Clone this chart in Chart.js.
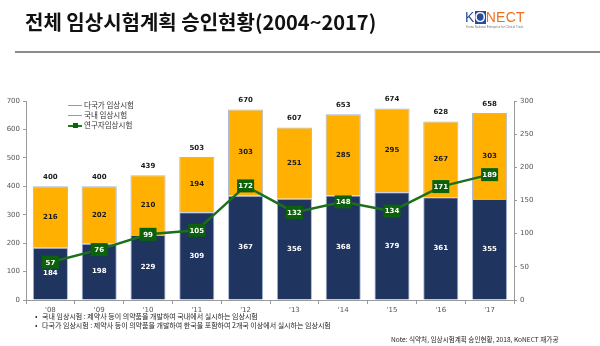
<!DOCTYPE html>
<html><head><meta charset="utf-8">
<script src="https://cdn.jsdelivr.net/npm/chart.js@4/dist/chart.umd.min.js"></script>
<style>
html,body{margin:0;padding:0;background:#fff;}
#wrap{position:relative;width:600px;height:346px;overflow:hidden;font-family:"Noto Sans CJK KR","Noto Sans",sans-serif;}
#c{position:absolute;left:0;top:0;}
.abs{position:absolute;white-space:nowrap;}
#title{left:25px;top:10px;font-size:20px;font-weight:bold;color:#111;line-height:24px;}
#rule{left:15px;top:51px;width:585px;height:2px;background:#8c8c8c;}
#logo{left:465px;top:10px;font-family:"Liberation Sans",Arial,sans-serif;font-size:14px;line-height:14px;letter-spacing:0.3px;}
#logo .k{color:#2b4c9b;}
#logo .o{display:inline-block;background:#2b4c9b;color:#fff;width:11px;text-align:center;line-height:13px;}
#logo .n{color:#ef6f22;}
#logosub{left:466px;top:25px;font-size:3px;color:#777;font-family:"Liberation Sans",sans-serif;}
.leg{font-size:7.5px;color:#333;line-height:10px;}
.legline{position:absolute;height:1px;background:#9a9a9a;}
.note{font-size:7px;color:#222;line-height:9px;}
</style></head>
<body><div id="wrap">
<canvas id="c" width="600" height="346"></canvas>
<div id="title" class="abs">전체 임상시험계획 승인현황(2004~2017)</div>
<div id="rule" class="abs"></div>
<div id="logo" class="abs"><span class="k">K</span><span class="o">O</span><span class="n">NECT</span></div>
<div id="logosub" class="abs">Korea National Enterprise for Clinical Trials</div>
<div class="legline" style="left:68px;top:105px;width:14px;"></div>
<div class="abs leg" style="left:84px;top:100px;">다국가 임상시험</div>
<div class="legline" style="left:68px;top:115px;width:14px;"></div>
<div class="abs leg" style="left:84px;top:110px;">국내 임상시험</div>
<div class="legline" style="left:68px;top:125px;width:14px;height:2px;background:#1f7a1f;"></div>
<div class="abs" style="left:73px;top:123px;width:5px;height:5px;background:#0b640b;"></div>
<div class="abs leg" style="left:84px;top:120px;">연구자임상시험</div>
<div class="abs note" style="left:35px;top:312px;">•&nbsp;&nbsp; 국내 임상시험 : 제약사 등이 의약품을 개발하여 국내에서 실시하는 임상시험</div>
<div class="abs note" style="left:35px;top:321px;">•&nbsp;&nbsp; 다국가 임상시험 : 제약사 등이 의약품을 개발하여 한국을 포함하여 2개국 이상에서 실시하는 임상시험</div>
<div class="abs note" style="left:391px;top:335px;font-size:6.6px;">Note: 식약처, 임상시험계획 승인현황, 2018, KoNECT 재가공</div>
</div>
<script>
const years = ["'08","'09","'10","'11","'12","'13","'14","'15","'16","'17"];
const domestic = [184,198,229,309,367,356,368,379,361,355];
const multinational = [216,202,210,194,303,251,285,295,267,303];
const totals = [400,400,439,503,670,607,653,674,628,658];
const investigator = [57,76,99,105,172,132,148,134,171,189];
const leftTicks = [0,100,200,300,400,500,600,700];
const rightTicks = [0,50,100,150,200,250,300];

const NAVY = '#1f3560', ORANGE = '#ffb000', GREEN = '#1c6f1c', BOX = '#0b620b', BORDER = '#a9b8d6';
const numFont = 'bold 7px "DejaVu Sans", sans-serif';

const labelPlugin = {
  id: 'labels',
  afterDatasetsDraw(chart) {
    const ctx = chart.ctx;
    ctx.save();
    ctx.font = numFont;
    ctx.textAlign = 'center';
    ctx.textBaseline = 'middle';
    const m0 = chart.getDatasetMeta(0), m1 = chart.getDatasetMeta(1), m2 = chart.getDatasetMeta(2);
    m0.data.forEach((el, i) => {
      ctx.fillStyle = '#fff';
      ctx.fillText(String(domestic[i]), el.x, (el.y + el.base) / 2);
    });
    m1.data.forEach((el, i) => {
      ctx.fillStyle = '#1a1a1a';
      ctx.fillText(String(multinational[i]), el.x, (el.y + el.base) / 2);
      ctx.fillText(String(totals[i]), el.x, el.y - 9);
    });
    m2.data.forEach((el, i) => {
      const w = 17, h = 13;
      ctx.fillStyle = BOX;
      ctx.fillRect(el.x - w/2, el.y - h/2, w, h);
      ctx.fillStyle = '#fff';
      ctx.fillText(String(investigator[i]), el.x, el.y + 0.5);
    });
    ctx.restore();
  }
};

new Chart(document.getElementById('c'), {
  data: {
    labels: years,
    datasets: [
      { type: 'bar', label: '국내 임상시험', data: domestic, backgroundColor: NAVY, borderColor: BORDER, borderWidth: 1, stack: 's', yAxisID: 'y', order: 2, categoryPercentage: 1, barPercentage: 0.72 },
      { type: 'bar', label: '다국가 임상시험', data: multinational, backgroundColor: ORANGE, borderColor: BORDER, borderWidth: 1, stack: 's', yAxisID: 'y', order: 2, categoryPercentage: 1, barPercentage: 0.72 },
      { type: 'line', label: '연구자임상시험', data: investigator, borderColor: GREEN, borderWidth: 2.5, pointRadius: 0, yAxisID: 'y1', order: 1, tension: 0 }
    ]
  },
  options: {
    responsive: false,
    animation: false,
    layout: { padding: { left: 0, right: 56, top: 101, bottom: 31 } },
    plugins: { legend: { display: false }, tooltip: { enabled: false } },
    scales: {
      x: {
        stacked: true,
        grid: { display: true, offset: true, drawOnChartArea: false, drawTicks: true, tickLength: 4, color: '#9a9a9a' },
        border: { display: true, color: '#9a9a9a', width: 1 },
        ticks: { color: '#555', font: { size: 7, family: '"DejaVu Sans", sans-serif' }, padding: 2, maxRotation: 0 },
        afterFit(s) { s.height = 15; }
      },
      y: {
        position: 'left', stacked: true, min: 0, max: 700,
        afterBuildTicks(s) { s.ticks = leftTicks.map(v => ({ value: v })); },
        grid: { display: true, drawOnChartArea: false, drawTicks: true, tickLength: 3, color: '#9a9a9a' },
        border: { display: true, color: '#9a9a9a', width: 1 },
        ticks: { color: '#555', font: { size: 7, family: '"DejaVu Sans", sans-serif' }, padding: 3 },
        afterFit(s) { s.width = 26; }
      },
      y1: {
        position: 'right', min: 0, max: 300,
        afterBuildTicks(s) { s.ticks = rightTicks.map(v => ({ value: v })); },
        grid: { display: true, drawOnChartArea: false, drawTicks: true, tickLength: 3, color: '#9a9a9a' },
        border: { display: true, color: '#9a9a9a', width: 1 },
        ticks: { color: '#555', font: { size: 7, family: '"DejaVu Sans", sans-serif' }, padding: 3 },
        afterFit(s) { s.width = 30; }
      }
    }
  },
  plugins: [labelPlugin]
});
</script>
</body></html>
